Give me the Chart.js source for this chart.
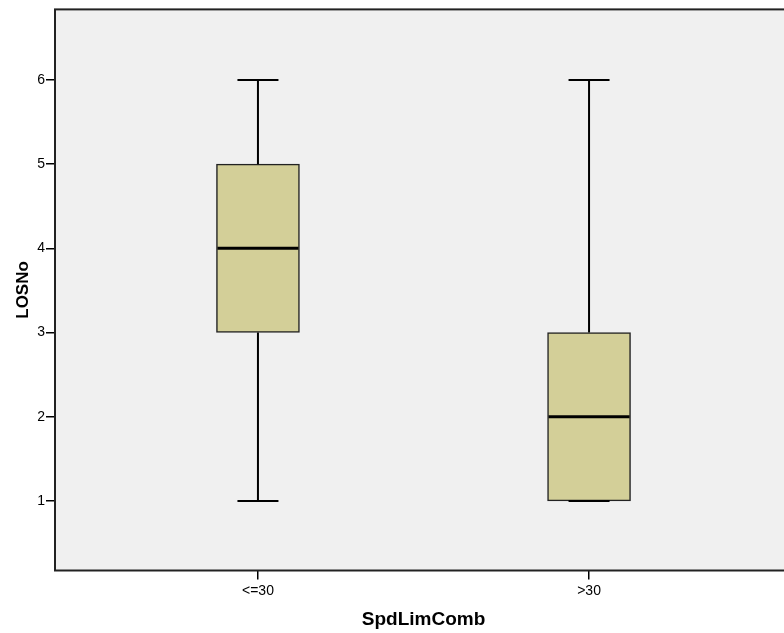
<!DOCTYPE html>
<html>
<head>
<meta charset="utf-8">
<script src="https://cdn.jsdelivr.net/npm/chart.js@4.4.0/dist/chart.umd.min.js"></script>
<style>
  html, body { margin: 0; padding: 0; background: #fff; overflow: hidden; width: 784px; height: 633px; }
  canvas { display: block; }
</style>
</head>
<body>
<!-- el área del gráfico sigue unos px más allá del borde derecho, como en el original -->
<canvas id="boxplot" width="794" height="633"></canvas>
<script>
// ---------- datos ----------
const categorias = ['<=30', '>30'];
const minimos    = [1, 1];
const q1         = [3, 1];
const medianas   = [4, 2];
const q3         = [5, 3];
const maximos    = [6, 6];
const yTicks     = [1, 2, 3, 4, 5, 6];

// ---------- estilos ----------
const FUENTE = "'Liberation Sans', Arial, sans-serif";
const COLOR_CAJA = '#d3cf98';
const COLOR_FONDO = '#f0f0f0';
const ANCHO_CAJA = 83;
const ANCHO_TOPE = 41;

// fondo gris + marco del área
const marcoPlugin = {
  id: 'marco',
  beforeDraw(chart) {
    const { ctx, chartArea: a } = chart;
    ctx.save();
    ctx.fillStyle = COLOR_FONDO;
    ctx.fillRect(a.left, a.top, a.right - a.left, a.bottom - a.top);
    ctx.restore();
  },
  afterDraw(chart) {
    const { ctx, chartArea: a } = chart;
    ctx.save();
    ctx.strokeStyle = '#222';
    ctx.lineWidth = 2;
    ctx.strokeRect(a.left, a.top, a.right - a.left, a.bottom - a.top);
    ctx.restore();
  }
};

// bigotes, topes y mediana usando las escalas del gráfico
const bigotesPlugin = {
  id: 'bigotes',
  afterDatasetsDraw(chart) {
    const { ctx, scales: { x, y } } = chart;
    ctx.save();
    ctx.strokeStyle = '#000';
    categorias.forEach((c, i) => {
      const xp = x.getPixelForValue(i);
      ctx.lineWidth = 2;
      ctx.beginPath();
      // bigote superior
      ctx.moveTo(xp, y.getPixelForValue(q3[i]));
      ctx.lineTo(xp, y.getPixelForValue(maximos[i]));
      // bigote inferior
      ctx.moveTo(xp, y.getPixelForValue(q1[i]));
      ctx.lineTo(xp, y.getPixelForValue(minimos[i]));
      // topes
      ctx.moveTo(xp - ANCHO_TOPE / 2, y.getPixelForValue(maximos[i]));
      ctx.lineTo(xp + ANCHO_TOPE / 2, y.getPixelForValue(maximos[i]));
      ctx.moveTo(xp - ANCHO_TOPE / 2, y.getPixelForValue(minimos[i]));
      ctx.lineTo(xp + ANCHO_TOPE / 2, y.getPixelForValue(minimos[i]));
      ctx.stroke();
      // mediana
      ctx.lineWidth = 3;
      ctx.beginPath();
      ctx.moveTo(xp - ANCHO_CAJA / 2 + 1, y.getPixelForValue(medianas[i]));
      ctx.lineTo(xp + ANCHO_CAJA / 2 - 1, y.getPixelForValue(medianas[i]));
      ctx.stroke();
    });
    ctx.restore();
  }
};

const data = {
  datasets: [{
    label: 'LOSNo',
    data: categorias.map((c, i) => ({ x: i, y: [q1[i], q3[i]] })),
    backgroundColor: COLOR_CAJA,
    borderColor: '#222',
    borderWidth: 1.5,
    borderSkipped: false,
    barThickness: ANCHO_CAJA
  }]
};

const options = {
  responsive: false,
  animation: false,
  layout: { padding: { top: 8, left: 0, right: 2, bottom: 0 } },
  plugins: {
    legend: { display: false },
    tooltip: { enabled: false }
  },
  scales: {
    x: {
      type: 'linear',
      offset: false,
      min: -0.613,
      max: 1.613,
      afterFit: (s) => { s.height = 62.5; },
      afterBuildTicks: (s) => { s.ticks = categorias.map((c, i) => ({ value: i })); },
      grid: { offset: false, drawOnChartArea: false, drawTicks: true, tickLength: 9, color: '#000', lineWidth: 1.5 },
      border: { display: false },
      ticks: {
        color: '#000',
        padding: 3,
        autoSkip: false,
        maxRotation: 0,
        font: { family: FUENTE, size: 14 },
        callback: (v) => categorias[v] ?? ''
      },
      title: {
        display: true,
        text: 'SpdLimComb',
        color: '#000',
        padding: { top: 0, bottom: 2 },
        font: { family: FUENTE, size: 19, weight: 'bold' }
      }
    },
    y: {
      min: 0.173,
      max: 6.838,
      afterFit: (s) => { s.width = 55; },
      afterBuildTicks: (s) => { s.ticks = yTicks.map(v => ({ value: v })); },
      grid: { drawOnChartArea: false, drawTicks: true, tickLength: 9, color: '#000', lineWidth: 1.5 },
      border: { display: false },
      ticks: {
        color: '#000',
        padding: 1,
        font: { family: FUENTE, size: 14 }
      },
      title: {
        display: true,
        text: 'LOSNo',
        color: '#000',
        padding: { top: 13, bottom: 0 },
        font: { family: FUENTE, size: 17, weight: 'bold' }
      }
    }
  }
};

new Chart(document.getElementById('boxplot'), {
  type: 'bar',
  data,
  options,
  plugins: [marcoPlugin, bigotesPlugin]
});
</script>
</body>
</html>
